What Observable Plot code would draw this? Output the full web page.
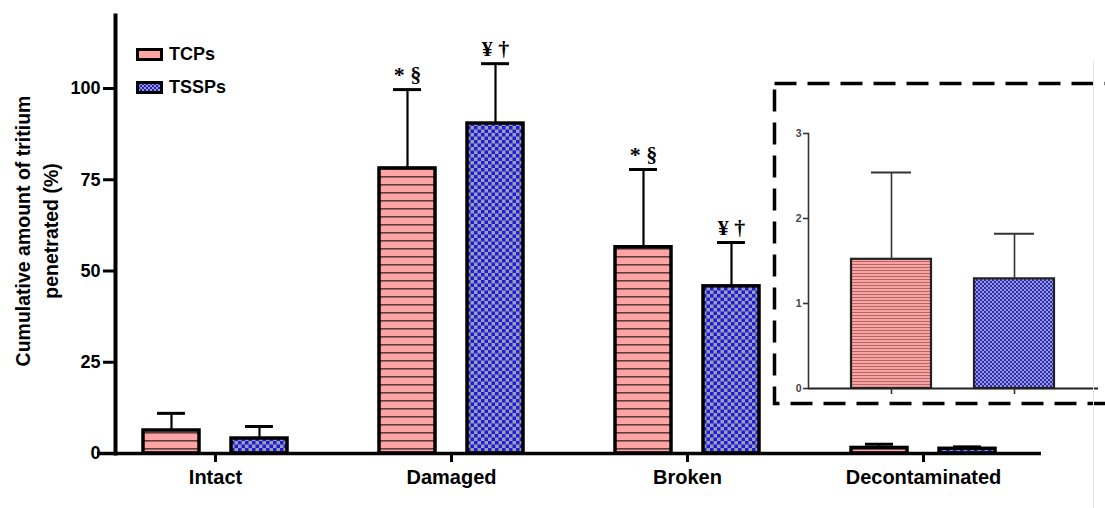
<!DOCTYPE html>
<html><head><meta charset="utf-8">
<script src="https://cdn.jsdelivr.net/npm/d3@7"></script>
<script src="https://cdn.jsdelivr.net/npm/@observablehq/plot@0.6"></script>
<style>
body{margin:0;background:#fff;font-family:"Liberation Sans",Arial,sans-serif;}
#wrap{position:relative;width:1105px;height:508px;overflow:hidden;background:#fff;}
#main{position:absolute;left:0;top:0;}
#inset{position:absolute;left:760px;top:75px;}
.ylab{position:absolute;left:37px;top:231px;width:360px;transform:translate(-50%,-50%) rotate(-90deg);text-align:center;font-weight:bold;font-size:19.5px;line-height:28px;color:#000;}
.leg{position:absolute;left:136px;display:flex;align-items:center;font-weight:bold;font-size:18px;color:#000;}
.leg svg{margin-right:6px;display:block;}
.edge{position:absolute;background:#e6e6e6;}
</style></head><body>
<div id="wrap">
  <div id="main"></div>
  <div id="inset"></div>
</div>
<script>
// ---- data ----
const categories = ["Intact", "Damaged", "Broken", "Decontaminated"];
const series = ["TCPs", "TSSPs"];
const tcpMeans = [6.3, 78.1, 56.5, 1.52];
const tcpSD = [4.7, 21.6, 21.3, 1.02];
const tsspMeans = [4.1, 90.4, 45.8, 1.29];
const tsspSD = [3.3, 16.4, 12.0, 0.53];
const tcpNotes = ["", "* §", "* §", ""];
const tsspNotes = ["", "¥ †", "¥ †", ""];
const yTicks = [0, 25, 50, 75, 100];
const insetTicks = [0, 1, 2, 3];
const insetCategory = "Decontaminated";
const yLabelLines = ["Cumulative amount of tritium", "penetrated (%)"];

const rows = categories.flatMap((c, i) => [
  {category: c, series: series[0], value: tcpMeans[i], hi: tcpMeans[i] + tcpSD[i], note: tcpNotes[i]},
  {category: c, series: series[1], value: tsspMeans[i], hi: tsspMeans[i] + tsspSD[i], note: tsspNotes[i]}
]);
const tcpRows = rows.filter(d => d.series === series[0]);
const tsspRows = rows.filter(d => d.series === series[1]);
const insetRows = rows.filter(d => d.category === insetCategory);

const font = "Liberation Sans, Arial, sans-serif";

const main = Plot.plot({
  width: 1105, height: 508,
  marginLeft: 97, marginRight: 64, marginTop: 15, marginBottom: 55,
  style: {fontFamily: font, color: "#000", background: "transparent", overflow: "visible"},
  fx: {domain: categories, padding: 0, label: null},
  x: {domain: series, paddingInner: 0.36, paddingOuter: 0.506, axis: null},
  y: {domain: [0, 120], label: null},
  marks: [
    Plot.barY(tcpRows, {fx: "category", x: "series", y: "value", fill: "url(#pinkH)", stroke: "#000", strokeWidth: 3.5}),
    Plot.barY(tsspRows, {fx: "category", x: "series", y: "value", fill: "url(#blueC)", stroke: "#000", strokeWidth: 3.5}),
    Plot.ruleX(rows, {fx: "category", x: "series", y1: "value", y2: "hi", stroke: "#000", strokeWidth: 2.2}),
    Plot.tickY(rows, {fx: "category", x: "series", y: "hi", insetLeft: 14, insetRight: 14, stroke: "#000", strokeWidth: 3}),
    Plot.text(rows.filter(d => d.note), {fx: "category", x: "series", y: "hi", text: "note", dy: -8, lineAnchor: "bottom",
      fontSize: 22, fontWeight: "bold", fontFamily: "Liberation Serif, serif"}),
    Plot.ruleY([0], {stroke: "#000", strokeWidth: 3.5}),
    Plot.frame({anchor: "left", facetAnchor: "left", dx: 18, stroke: "#000", strokeWidth: 4}),
    Plot.axisY(yTicks, {anchor: "left", dx: 18, tickSize: 12, tickPadding: 3, strokeWidth: 3,
      fontSize: 18, fontWeight: "bold", label: null}),
    Plot.axisFx({anchor: "bottom", tickSize: 9, tickPadding: 7, strokeWidth: 3,
      fontSize: 20, fontWeight: "bold", label: null})
  ]
});

const inset = Plot.plot({
  width: 345, height: 335,
  marginLeft: 48, marginRight: 7, marginTop: 58, marginBottom: 22,
  style: {fontFamily: font, color: "#333", background: "transparent", overflow: "visible"},
  x: {domain: series, padding: 0.347, label: null},
  y: {domain: [0, 3], label: null},
  marks: [
    Plot.frame({stroke: "#000", strokeWidth: 3.5, strokeDasharray: "22,11",
      insetLeft: -34, insetTop: -50, insetBottom: -15, insetRight: -30}),
    Plot.barY(insetRows.filter(d => d.series === series[0]), {x: "series", y: "value", fill: "url(#pinkHs)", stroke: "#222", strokeWidth: 2.2}),
    Plot.barY(insetRows.filter(d => d.series === series[1]), {x: "series", y: "value", fill: "url(#blueCs)", stroke: "#222", strokeWidth: 2.2}),
    Plot.ruleX(insetRows, {x: "series", y1: "value", y2: "hi", stroke: "#333", strokeWidth: 1.6}),
    Plot.tickY(insetRows, {x: "series", y: "hi", insetLeft: 20, insetRight: 20, stroke: "#333", strokeWidth: 2}),
    Plot.ruleY([0], {stroke: "#222", strokeWidth: 2}),
    Plot.frame({anchor: "left", stroke: "#333", strokeWidth: 1.6}),
    Plot.axisY(insetTicks, {anchor: "left", tickSize: 5, tickPadding: 2, strokeWidth: 1.6, stroke: "#333",
      tickFormat: d3.format("d"), fontSize: 10.5, fontWeight: "bold", fill: "#444", label: null}),
    Plot.axisX({anchor: "bottom", tickSize: 6, strokeWidth: 1.6, stroke: "#333", tickFormat: () => "", label: null})
  ]
});

function addPatterns(svg, defsSpec) {
  const defs = d3.select(svg).insert("defs", ":first-child");
  for (const p of defsSpec) {
    const pat = defs.append("pattern").attr("id", p.id).attr("patternUnits", "userSpaceOnUse")
      .attr("width", p.size).attr("height", p.size);
    pat.append("rect").attr("width", p.size).attr("height", p.size).attr("fill", p.bg);
    for (const r of p.rects) pat.append("rect").attr("x", r[0]).attr("y", r[1]).attr("width", r[2]).attr("height", r[3]).attr("fill", p.fg);
  }
}
addPatterns(main, [
  {id: "pinkH", size: 8, bg: "#ffa4a4", fg: "#5e3c3c", rects: [[0, 0, 8, 1.6]]},
  {id: "blueC", size: 7, bg: "#9d9dab", fg: "#1c1cdf", rects: [[0, 0, 3.5, 3.5], [3.5, 3.5, 3.5, 3.5]]}
]);
addPatterns(inset, [
  {id: "pinkHs", size: 3, bg: "#fba2a2", fg: "#b06868", rects: [[0, 0, 3, 1]]},
  {id: "blueCs", size: 4, bg: "#9e9eb6", fg: "#2828d8", rects: [[0, 0, 2, 2], [2, 2, 2, 2]]}
]);

document.getElementById("main").appendChild(main);
document.getElementById("inset").appendChild(inset);

const wrap = document.getElementById("wrap");
// y label
const yl = document.createElement("div");
yl.className = "ylab";
yl.innerHTML = yLabelLines.join("<br>");
wrap.appendChild(yl);
// legend
const legendSpec = [
  {label: series[0], top: 44, draw: s => s.append("rect").attr("x", 1.5).attr("y", 1.5).attr("width", 24).attr("height", 10).attr("fill", "#ffa4a4").attr("stroke", "#000").attr("stroke-width", 3)},
  {label: series[1], top: 77, draw: s => {
    const d = s.append("defs").append("pattern").attr("id", "legC").attr("patternUnits", "userSpaceOnUse").attr("width", 4).attr("height", 4);
    d.append("rect").attr("width", 4).attr("height", 4).attr("fill", "#9d9dab");
    d.append("rect").attr("width", 2).attr("height", 2).attr("fill", "#1c1cdf");
    d.append("rect").attr("x", 2).attr("y", 2).attr("width", 2).attr("height", 2).attr("fill", "#1c1cdf");
    s.append("rect").attr("x", 1.5).attr("y", 1.5).attr("width", 24).attr("height", 10).attr("fill", "url(#legC)").attr("stroke", "#000").attr("stroke-width", 3);
  }}
];
for (const l of legendSpec) {
  const div = document.createElement("div");
  div.className = "leg";
  div.style.top = l.top + "px";
  const sw = d3.create("svg").attr("width", 27).attr("height", 13);
  l.draw(sw);
  div.appendChild(sw.node());
  const t = document.createElement("span");
  t.textContent = l.label;
  div.appendChild(t);
  wrap.appendChild(div);
}
// faint screenshot edge
const e1 = document.createElement("div"); e1.className = "edge";
Object.assign(e1.style, {left: "1093px", top: "60px", width: "1px", height: "448px"});
wrap.appendChild(e1);
</script>
</body></html>
